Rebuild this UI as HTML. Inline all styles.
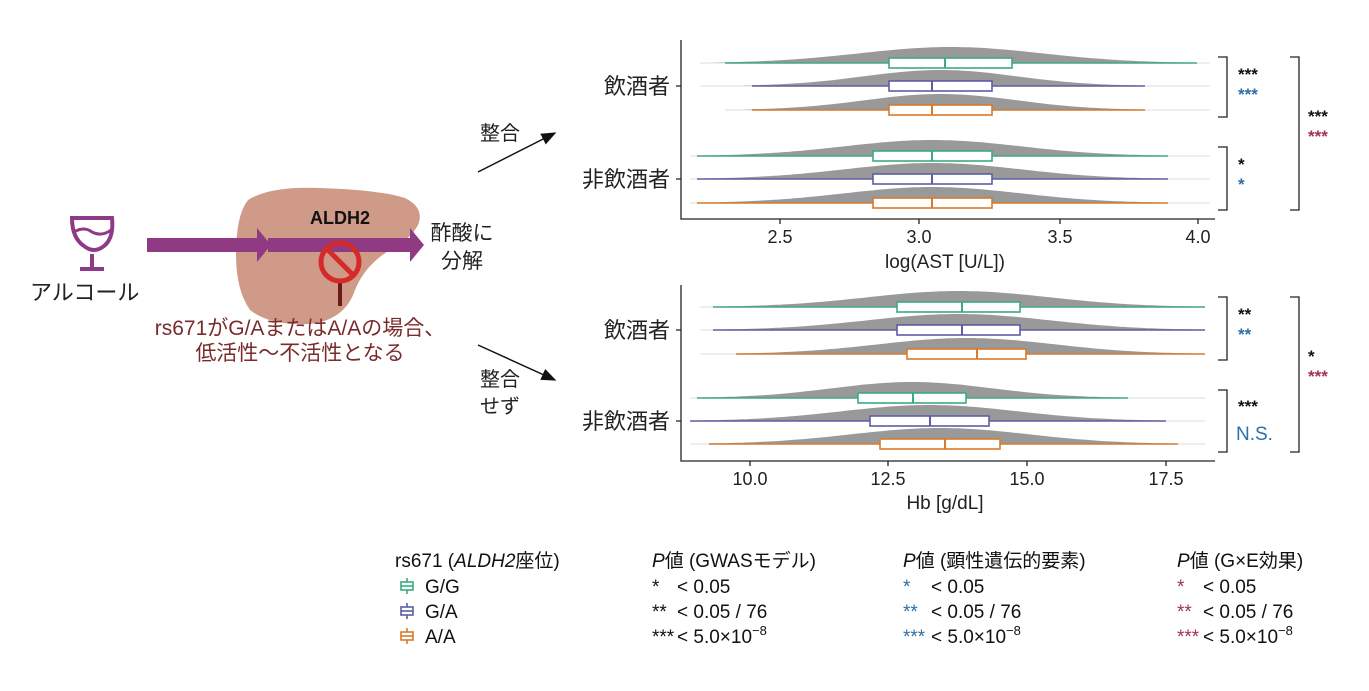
<!DOCTYPE html>
<html><head><meta charset="utf-8"><style>
body{margin:0;background:#fff;}
svg{display:block;font-family:"Liberation Sans","Noto Sans CJK JP",sans-serif;}
</style></head><body>
<svg id="s" width="1369" height="691" viewBox="0 0 1369 691">
<defs><marker id="ah" markerWidth="10" markerHeight="8" refX="9" refY="4" orient="auto"><path d="M0,0 L10,4 L0,8 z" fill="#111"/></marker></defs>
<path d="M248,200 Q270,186 320,188 Q380,190 405,198 Q425,208 418,225 Q410,240 390,250 Q365,265 355,290 Q345,320 310,324 Q270,326 250,310 Q236,290 236,255 Q236,215 248,200 Z" fill="#d09a88"/>
<path d="M72,218 h40 q2,20 -8,28 q-10,8 -20,0 q-12,-8 -12,-28z" fill="none" stroke="#8e3a86" stroke-width="4"/>
<path d="M74,232 q10,-6 18,0 q10,5 19,-2" fill="none" stroke="#8e3a86" stroke-width="3"/>
<line x1="92" y1="254" x2="92" y2="268" stroke="#8e3a86" stroke-width="4"/>
<line x1="80" y1="269" x2="104" y2="269" stroke="#8e3a86" stroke-width="4"/>
<text x="30" y="300" font-size="22" fill="#222">アルコール</text>
<path d="M147,238 h110 v-10 l14,17 l-14,17 v-10 h-110z" fill="#8f3a83"/>
<path d="M268,238 h142 v-10 l14,17 l-14,17 v-10 h-142z" fill="#8f3a83"/>
<text x="340" y="224" font-size="18" font-weight="bold" text-anchor="middle" fill="#111">ALDH2</text>
<line x1="340" y1="283" x2="340" y2="306" stroke="#6b1a1a" stroke-width="4"/>
<circle cx="340" cy="262" r="19" fill="none" stroke="#d42a2a" stroke-width="5"/>
<line x1="327" y1="249" x2="353" y2="275" stroke="#d42a2a" stroke-width="5"/>
<text x="300" y="335" font-size="21" text-anchor="middle" fill="#7a2b2b">rs671がG/AまたはA/Aの場合、</text>
<text x="300" y="360" font-size="21" text-anchor="middle" fill="#7a2b2b">低活性〜不活性となる</text>
<text x="462" y="240" font-size="21" text-anchor="middle" fill="#222">酢酸に</text>
<text x="462" y="268" font-size="21" text-anchor="middle" fill="#222">分解</text>
<line x1="478" y1="172" x2="555" y2="133" stroke="#111" stroke-width="1.5" marker-end="url(#ah)"/>
<line x1="478" y1="345" x2="555" y2="380" stroke="#111" stroke-width="1.5" marker-end="url(#ah)"/>
<text x="500" y="140" font-size="20" text-anchor="middle" fill="#222">整合</text>
<text x="500" y="386" font-size="20" text-anchor="middle" fill="#222">整合</text>
<text x="500" y="413" font-size="20" text-anchor="middle" fill="#222">せず</text>
<g font-size="22" fill="#222" text-anchor="end">
<text x="670" y="94">飲酒者</text><text x="670" y="187">非飲酒者</text>
<text x="670" y="338">飲酒者</text><text x="670" y="429">非飲酒者</text></g>
<g id="plots"></g>
<g stroke="#222" stroke-width="1.3" fill="none">
<path d="M681,40 V219 H1215"/><path d="M681,285 V461 H1215"/>
<path d="M676,86 h5 M676,179 h5 M676,330 h5 M676,421 h5"/>
<path d="M780,219 v5 M919,219 v5 M1060,219 v5 M1198,219 v5"/>
<path d="M750,461 v5 M888,461 v5 M1027,461 v5 M1166,461 v5"/>
<path d="M1218,57 h9 v60 h-9 M1218,147 h9 v63 h-9 M1290,57 h9 v153 h-9"/>
<path d="M1218,297 h9 v63 h-9 M1218,390 h9 v62 h-9 M1290,297 h9 v155 h-9"/>
</g>
<g font-size="18" fill="#222" text-anchor="middle">
<text x="780" y="243">2.5</text><text x="919" y="243">3.0</text><text x="1060" y="243">3.5</text><text x="1198" y="243">4.0</text>
<text x="750" y="485">10.0</text><text x="888" y="485">12.5</text><text x="1027" y="485">15.0</text><text x="1166" y="485">17.5</text>
<text x="945" y="268" font-size="19">log(AST [U/L])</text>
<text x="945" y="509" font-size="19">Hb [g/dL]</text></g>
<g font-size="17" font-weight="bold">
<text x="1238" y="80" fill="#111">***</text><text x="1238" y="100" fill="#2e6fa7">***</text>
<text x="1238" y="170" fill="#111">*</text><text x="1238" y="190" fill="#2e6fa7">*</text>
<text x="1308" y="122" fill="#111">***</text><text x="1308" y="142" fill="#a2315a">***</text>
<text x="1238" y="320" fill="#111">**</text><text x="1238" y="340" fill="#2e6fa7">**</text>
<text x="1238" y="412" fill="#111">***</text>
<text x="1308" y="362" fill="#111">*</text><text x="1308" y="382" fill="#a2315a">***</text></g>
<text x="1236" y="440" font-size="19" fill="#2e6fa7">N.S.</text>
<g font-size="19" fill="#111">
<text x="395" y="567">rs671 (<tspan font-style="italic">ALDH2</tspan>座位)</text>
<text x="652" y="567"><tspan font-style="italic">P</tspan>値 (GWASモデル)</text>
<text x="903" y="567"><tspan font-style="italic">P</tspan>値 (顕性遺伝的要素)</text>
<text x="1177" y="567"><tspan font-style="italic">P</tspan>値 (G×E効果)</text>
<text x="425" y="593">G/G</text><text x="425" y="618">G/A</text><text x="425" y="643">A/A</text>
<text x="652" y="593">*</text><text x="677" y="593">&lt; 0.05</text>
<text x="652" y="618">**</text><text x="677" y="618">&lt; 0.05 / 76</text>
<text x="652" y="643">***</text><text x="677" y="643">&lt; 5.0×10<tspan dy="-8" font-size="13">−8</tspan></text>
<g fill="#2e6fa7"><text x="903" y="593">*</text><text x="903" y="618">**</text><text x="903" y="643">***</text></g>
<text x="931" y="593">&lt; 0.05</text><text x="931" y="618">&lt; 0.05 / 76</text><text x="931" y="643">&lt; 5.0×10<tspan dy="-8" font-size="13">−8</tspan></text>
<g fill="#a2315a"><text x="1177" y="593">*</text><text x="1177" y="618">**</text><text x="1177" y="643">***</text></g>
<text x="1203" y="593">&lt; 0.05</text><text x="1203" y="618">&lt; 0.05 / 76</text><text x="1203" y="643">&lt; 5.0×10<tspan dy="-8" font-size="13">−8</tspan></text>
</g>
<g fill="#fff" stroke-width="1.6">
<g stroke="#3daa80"><line x1="407" y1="578" x2="407" y2="594"/><rect x="401" y="582" width="12" height="8"/><line x1="401" y1="586" x2="413" y2="586"/></g>
<g stroke="#5b5ea6"><line x1="407" y1="603" x2="407" y2="619"/><rect x="401" y="607" width="12" height="8"/><line x1="401" y1="611" x2="413" y2="611"/></g>
<g stroke="#d97a2b"><line x1="407" y1="628" x2="407" y2="644"/><rect x="401" y="632" width="12" height="8"/><line x1="401" y1="636" x2="413" y2="636"/></g>
</g>
</svg>
<script>
var C={g:"#3daa80",a:"#5b5ea6",o:"#d97a2b"};
var rows=[
[63,725,1197,889,1012,945,"g",700,1210],
[86,752,1145,889,992,932,"a",700,1210],
[110,752,1145,889,992,932,"o",725,1210],
[156,697,1168,873,992,932,"g",690,1210],
[179,697,1168,873,992,932,"a",690,1210],
[203,697,1168,873,992,932,"o",690,1210],
[307,713,1205,897,1020,962,"g",700,1205],
[330,713,1205,897,1020,962,"a",700,1205],
[354,736,1205,907,1026,977,"o",700,1205],
[398,697,1128,858,966,913,"g",690,1205],
[421,690,1166,870,989,930,"a",690,1205],
[444,709,1178,880,1000,945,"o",690,1205]];
var g=document.getElementById("plots"),h="";
rows.forEach(function(r){
 var y=r[0],c=C[r[6]],m=(r[3]+r[4])/2,sd=(r[4]-r[3])/1.35;
 var d="M"+r[7]+","+y;
 for(var x=r[7];x<=r[8];x+=4){var t=(x-m)/sd;d+=" L"+x+","+(y-16*Math.exp(-t*t/2)).toFixed(1);}
 d+=" L"+r[8]+","+y+"Z";
 h+='<path d="'+d+'" fill="#999"/>';
 h+='<line x1="'+r[7]+'" y1="'+y+'" x2="'+r[8]+'" y2="'+y+'" stroke="#ddd" stroke-width="1"/>';
 h+='<line x1="'+r[1]+'" y1="'+y+'" x2="'+r[2]+'" y2="'+y+'" stroke="'+c+'" stroke-width="1.6"/>';
 h+='<rect x="'+r[3]+'" y="'+(y-5)+'" width="'+(r[4]-r[3])+'" height="10" fill="#fff" stroke="'+c+'" stroke-width="1.6"/>';
 h+='<line x1="'+r[5]+'" y1="'+(y-5)+'" x2="'+r[5]+'" y2="'+(y+5)+'" stroke="'+c+'" stroke-width="2"/>';
});
g.innerHTML=h;
</script>
</body></html>
